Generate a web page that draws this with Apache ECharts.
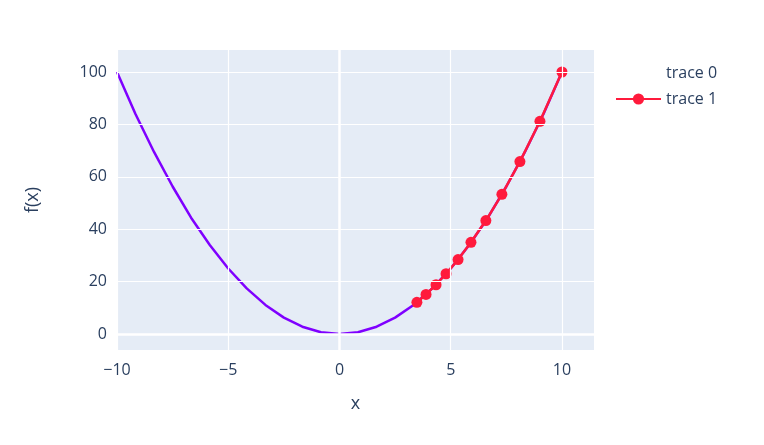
<!DOCTYPE html>
<html><head><meta charset="utf-8">
<script src="https://cdn.jsdelivr.net/npm/echarts@6/dist/echarts.min.js"></script>
<style>html,body{margin:0;background:#fff}#c{width:764px;height:445px}</style>
</head><body><div id="c"></div>
<script>
var x0 = [-10,-9.17,-8.33,-7.5,-6.67,-5.83,-5,-4.17,-3.33,-2.5,-1.67,-0.83,0,0.83,1.67,2.5,3.33,4.17,5,5.83,6.67,7.5,8.33,9.17,10];
var y0 = [100,84,69.4,56.3,44.4,34,25,17.4,11.1,6.25,2.8,0.7,0,0.7,2.8,6.25,11.1,17.4,25,34,44.4,56.3,69.4,84,100];
var x1 = [3.48,3.89,4.34,4.79,5.33,5.91,6.58,7.30,8.11,9.01,10];
var y1 = [12.1,15.1,18.8,23,28.4,35,43.3,53.3,65.8,81.2,100];
var xTicks = [-10,-5,0,5,10];
var yTicks = [0,20,40,60,80,100];

function pairs(a,b){ return a.map(function(v,i){ return [v,b[i]]; }); }

var font = 'Open Sans';
var txt = '#2a3f5f';
var chart = echarts.init(document.getElementById('c'));
var option = {
  animation: false,
  textStyle: {fontFamily: font},
  grid: {left: 117, right: 170, top: 50, bottom: 95, show: true, backgroundColor: '#E5ECF6', borderWidth: 0},
  legend: {
    orient: 'vertical', left: 610, top: 60, itemGap: 10, itemWidth: 45, itemHeight: 14,
    textStyle: {color: txt, fontSize: 16, fontFamily: font},
    data: [{name: 'trace 0', icon: 'none'}, {name: 'trace 1'}]
  },
  xAxis: {
    type: 'value', min: -10, max: 11.44,
    name: 'x', nameLocation: 'middle', nameGap: 45,
    nameTextStyle: {color: txt, fontSize: 18, fontFamily: font},
    axisLine: {show: false}, axisTick: {show: false, customValues: xTicks},
    axisLabel: {customValues: xTicks, color: txt, fontSize: 16, margin: 12, formatter: function(v){ return String(v).replace('-', '\u2212'); }},
    splitLine: {show: false}
  },
  yAxis: {
    type: 'value', min: -6.1, max: 108.4,
    name: 'f(x)', nameLocation: 'middle', nameGap: 75, nameRotate: 90,
    nameTextStyle: {color: txt, fontSize: 18, fontFamily: font},
    axisLine: {show: false}, axisTick: {show: false, customValues: yTicks},
    axisLabel: {customValues: yTicks, color: txt, fontSize: 16, margin: 10},
    splitLine: {show: false}
  },
  series: [
    {
      name: 'grid', type: 'line', data: [], silent: true,
      markLine: {
        silent: true, symbol: 'none', label: {show: false},
        data: xTicks.map(function(v){ return {xAxis: v, lineStyle: {color: '#fff', width: v === 0 ? 2.5 : 1.2, type: 'solid'}}; })
          .concat(yTicks.map(function(v){ return {yAxis: v, lineStyle: {color: '#fff', width: v === 0 ? 2.5 : 1.2, type: 'solid'}}; }))
      }
    },
    {name: 'trace 0', type: 'line', data: pairs(x0, y0), showSymbol: false, symbol: 'none',
     lineStyle: {color: '#7f00ff', width: 2.5}, itemStyle: {color: '#7f00ff'}},
    {name: 'trace 1', type: 'line', data: pairs(x1, y1), symbol: 'circle', symbolSize: 11,
     lineStyle: {color: '#ff1a3c', width: 2.5}, itemStyle: {color: '#ff1a3c'}}
  ]
};
chart.setOption(option);
</script>
</body></html>
